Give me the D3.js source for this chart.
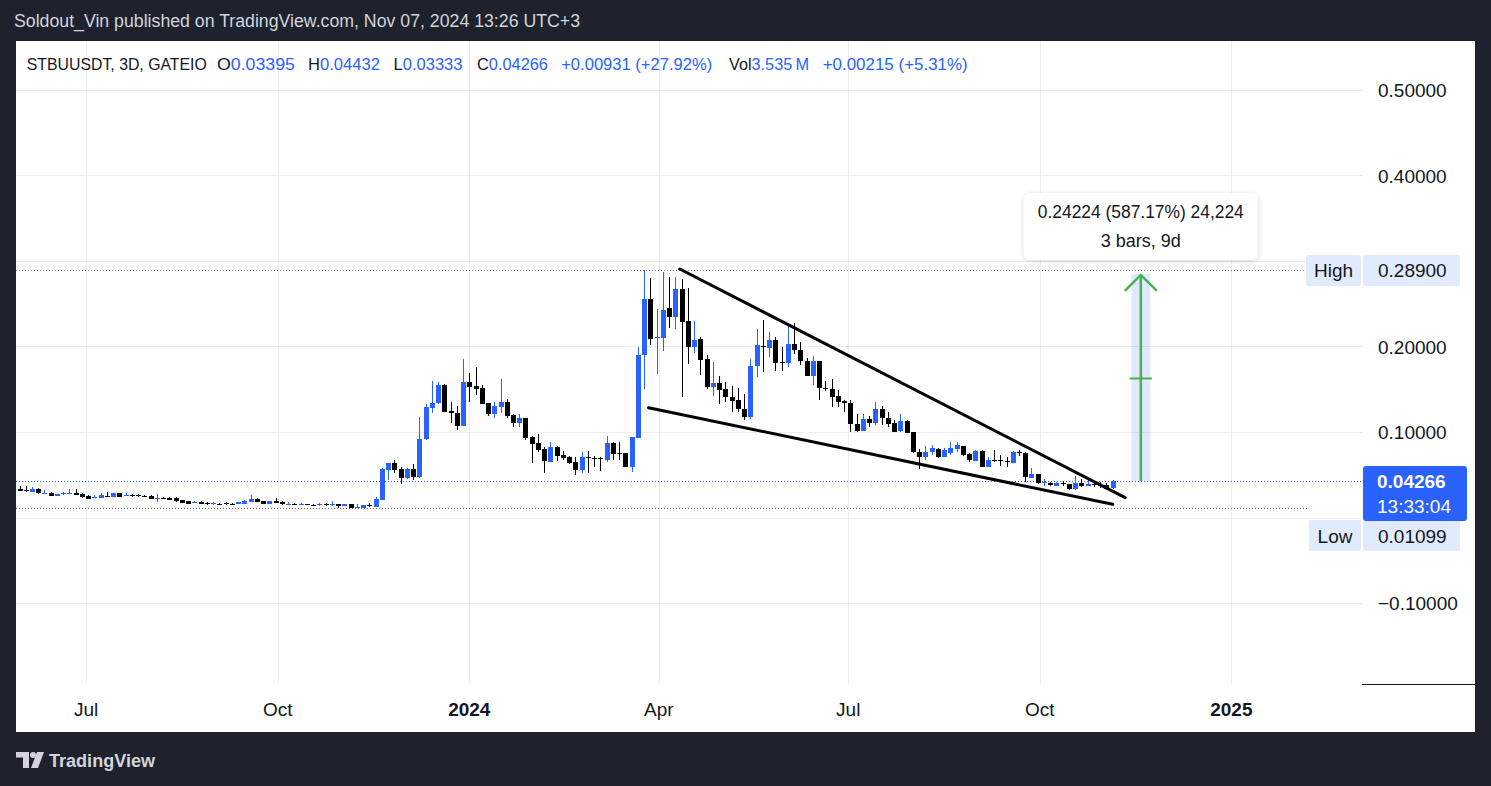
<!DOCTYPE html>
<html><head><meta charset="utf-8">
<script src="https://cdn.jsdelivr.net/npm/d3@7"></script>
<style>html,body{margin:0;padding:0;background:#1e222d;overflow:hidden}svg{display:block}</style>
</head><body>
<svg id="chart" width="1491" height="786"></svg>
<script>
// ---------------- DATA ----------------
const firstBarDate = "2023-05-30";   // 3D bars
const barDays = 3;
const opens = [
0.0337,0.0324,0.0302,0.0333,0.0287,0.0290,0.0255,0.0271,0.0287,0.0290,
0.0275,0.0255,0.0232,0.0228,0.0251,0.0243,0.0283,0.0264,0.0265,0.0261,
0.0254,0.0255,0.0225,0.0230,0.0232,0.0225,0.0205,0.0189,0.0178,0.0185,
0.0171,0.0159,0.0161,0.0164,0.0161,0.0158,0.0161,0.0185,0.0213,0.0193,
0.0161,0.0193,0.0185,0.0154,0.0160,0.0156,0.0154,0.0150,0.0143,0.0161,
0.0143,0.0158,0.0138,0.0158,0.0115,0.0115,0.0150,0.0126,0.0205,0.0559,
0.0637,0.0564,0.0458,0.0567,0.0470,0.0915,0.1284,0.1336,0.1550,0.1249,
0.1222,0.1074,0.1581,0.1538,0.1515,0.1339,0.1214,0.1296,0.1351,0.1199,
0.1109,0.1160,0.0942,0.0868,0.0805,0.0653,0.0821,0.0731,0.0708,0.0649,
0.0559,0.0708,0.0699,0.0696,0.0676,0.0871,0.0754,0.0754,0.0591,0.0933,
0.1901,0.2559,0.2108,0.2103,0.2454,0.2349,0.2673,0.2298,0.1998,0.2088,
0.1850,0.1530,0.1573,0.1503,0.1409,0.1374,0.1269,0.1179,0.1768,0.2006,
0.1986,0.2076,0.1815,0.1804,0.2026,0.1959,0.1834,0.1658,0.1830,0.1515,
0.1499,0.1421,0.1357,0.1336,0.1090,0.1015,0.1152,0.1109,0.1266,0.1160,
0.1102,0.1015,0.1129,0.0996,0.0770,0.0704,0.0763,0.0801,0.0704,0.0758,
0.0801,0.0836,0.0743,0.0664,0.0781,0.0594,0.0676,0.0669,0.0657,0.0634,
0.0770,0.0758,0.0466,0.0509,0.0407,0.0404,0.0368,0.0400,0.0392,0.0330,
0.0407,0.0368,0.0392,0.0384,0.0384,0.03395];
const highs = [
0.0368,0.0368,0.0357,0.0349,0.0322,0.0302,0.0278,0.0302,0.0333,0.0337,
0.0290,0.0263,0.0263,0.0281,0.0298,0.0287,0.0287,0.0283,0.0275,0.0271,
0.0263,0.0260,0.0271,0.0243,0.0236,0.0243,0.0208,0.0193,0.0196,0.0189,
0.0185,0.0181,0.0173,0.0181,0.0173,0.0185,0.0201,0.0263,0.0225,0.0196,
0.0196,0.0228,0.0193,0.0178,0.0173,0.0170,0.0158,0.0161,0.0173,0.0164,
0.0193,0.0161,0.0161,0.0161,0.0158,0.0150,0.0173,0.0236,0.0582,0.0643,
0.0673,0.0587,0.0579,0.0626,0.1172,0.1327,0.1596,0.1588,0.1556,0.1351,
0.1304,0.1854,0.1687,0.1757,0.1550,0.1345,0.1354,0.1620,0.1386,0.1211,
0.1211,0.1164,0.0953,0.0973,0.0821,0.0883,0.0836,0.0774,0.0719,0.0704,
0.0763,0.0781,0.0719,0.0702,0.0953,0.0887,0.0883,0.0760,0.0947,0.1998,
0.2890,0.2805,0.2435,0.2868,0.2813,0.2813,0.2789,0.2681,0.2298,0.2115,
0.1901,0.1822,0.1655,0.1588,0.1538,0.1511,0.1441,0.1850,0.2205,0.2310,
0.2170,0.2115,0.1991,0.2271,0.2271,0.2056,0.1869,0.1889,0.1836,0.1600,
0.1616,0.1491,0.1374,0.1374,0.1211,0.1211,0.1191,0.1351,0.1308,0.1230,
0.1140,0.1207,0.1140,0.1000,0.0801,0.0836,0.0848,0.0809,0.0809,0.0887,
0.0887,0.0842,0.0749,0.0789,0.0789,0.0704,0.0789,0.0731,0.0711,0.0781,
0.0789,0.0766,0.0575,0.0512,0.0447,0.0419,0.0419,0.0427,0.0395,0.0485,
0.0450,0.0439,0.0419,0.0412,0.0400,0.04432];
const lows = [
0.0310,0.0298,0.0298,0.0271,0.0271,0.0251,0.0251,0.0269,0.0271,0.0263,
0.0228,0.0211,0.0225,0.0225,0.0242,0.0240,0.0240,0.0251,0.0243,0.0240,
0.0236,0.0216,0.0185,0.0213,0.0205,0.0181,0.0170,0.0158,0.0166,0.0158,
0.0150,0.0150,0.0150,0.0146,0.0150,0.0154,0.0158,0.0183,0.0181,0.0158,
0.0158,0.0166,0.0150,0.0150,0.0146,0.0150,0.0146,0.0138,0.0140,0.0140,
0.0140,0.0111,0.0135,0.0111,0.01099,0.0111,0.0126,0.0123,0.0199,0.0439,
0.0526,0.0392,0.0450,0.0439,0.0462,0.0906,0.1219,0.1327,0.1230,0.1109,
0.1023,0.1070,0.1354,0.1433,0.1322,0.1191,0.1167,0.1226,0.1164,0.1062,
0.1062,0.0906,0.0641,0.0763,0.0524,0.0649,0.0657,0.0676,0.0626,0.0501,
0.0524,0.0524,0.0594,0.0547,0.0646,0.0673,0.0669,0.0591,0.0529,0.0930,
0.1503,0.2018,0.1678,0.1947,0.2213,0.2205,0.1413,0.1792,0.1927,0.1663,
0.1503,0.1425,0.1324,0.1354,0.1237,0.1237,0.1137,0.1152,0.1647,0.1705,
0.1881,0.1717,0.1713,0.1764,0.1912,0.1784,0.1655,0.1550,0.1374,0.1483,
0.1289,0.1296,0.1237,0.1004,0.1004,0.1012,0.1062,0.1082,0.1082,0.1062,
0.1000,0.1004,0.0985,0.0751,0.0564,0.0673,0.0731,0.0692,0.0702,0.0731,
0.0770,0.0719,0.0653,0.0661,0.0591,0.0591,0.0653,0.0602,0.0594,0.0632,
0.0719,0.0412,0.0462,0.0388,0.0368,0.0368,0.0365,0.0368,0.0327,0.0327,
0.0360,0.0365,0.0360,0.0349,0.0322,0.03333];
const closes = [
0.0313,0.0319,0.0337,0.0283,0.0292,0.0255,0.0275,0.0287,0.0292,0.0267,
0.0240,0.0216,0.0240,0.0260,0.0246,0.0283,0.0243,0.0269,0.0260,0.0256,
0.0248,0.0220,0.0232,0.0226,0.0208,0.0193,0.0173,0.0161,0.0184,0.0161,
0.0166,0.0164,0.0154,0.0159,0.0158,0.0181,0.0196,0.0213,0.0185,0.0161,
0.0193,0.0170,0.0154,0.0161,0.0156,0.0161,0.0150,0.0143,0.0161,0.0143,
0.0161,0.0138,0.0158,0.0115,0.0123,0.0146,0.0146,0.0213,0.0564,0.0637,
0.0559,0.0458,0.0564,0.0474,0.0915,0.1292,0.1339,0.1550,0.1237,0.1219,
0.1074,0.1581,0.1530,0.1506,0.1327,0.1214,0.1304,0.1351,0.1187,0.1109,
0.1160,0.0930,0.0863,0.0789,0.0664,0.0821,0.0723,0.0696,0.0641,0.0559,
0.0704,0.0699,0.0692,0.0688,0.0871,0.0739,0.0746,0.0594,0.0942,0.1901,
0.2559,0.2091,0.2115,0.2427,0.2349,0.2673,0.2290,0.1998,0.2076,0.1846,
0.1530,0.1573,0.1495,0.1413,0.1366,0.1266,0.1179,0.1772,0.2018,0.1991,
0.2076,0.1804,0.1804,0.2026,0.1959,0.1834,0.1658,0.1830,0.1518,0.1503,
0.1413,0.1354,0.1343,0.1094,0.1015,0.1152,0.1109,0.1266,0.1160,0.1094,
0.1004,0.1129,0.0992,0.0763,0.0704,0.0770,0.0809,0.0704,0.0789,0.0809,
0.0844,0.0731,0.0673,0.0781,0.0594,0.0673,0.0669,0.0662,0.0649,0.0770,
0.0758,0.0477,0.0509,0.0407,0.0419,0.0380,0.0404,0.0392,0.0330,0.0407,
0.0368,0.0392,0.0380,0.0368,0.0333,0.04266];

const priceTicks = [0.5, 0.4, 0.3, 0.2, 0.1, 0.0, -0.1];
// the 0.00000 label is fully covered by the price badges in the original
const priceTickLabelShown = [true, true, true, true, true, false, true];
const timeTickDates = ["2023-07-01","2023-10-01","2024-01-01","2024-04-01","2024-07-01","2024-10-01","2025-01-01"];
const timeTickLabels = ["Jul","Oct","2024","Apr","Jul","Oct","2025"];
const timeTickBold = [false,false,true,false,false,false,true];

const highValue = 0.289, lowValue = 0.01099, lastPrice = 0.04266;
const countdown = "13:33:04";
// trend lines: [barIndex, price]
const upperTrend = [[105.7, 0.2906], [177.0, 0.0232]];
const lowerTrend = [[100.7, 0.1284], [175.0, 0.0154]];
// price range measurement
const rangeFromPrice = 0.04266, rangeChange = 0.24224;
const rangeBars = [178, 181];
const rangeText = ["0.24224 (587.17%) 24,224", "3 bars, 9d"];

const headerText = "Soldout_Vin published on TradingView.com, Nov 07, 2024 13:26 UTC+3";
const legendLabels = ["STBUUSDT, 3D, GATEIO","O","H","L","C","","Vol",""];
const legendValues = ["","0.03395","0.04432","0.03333","0.04266","+0.00931 (+27.92%)","3.535\u202FM","+0.00215 (+5.31%)"];

// ---------------- LAYOUT ----------------
const plot = {x0:16, y0:41, x1:1362, y1:684};
const panel = {x0:16, y0:41, x1:1475, y1:732};
const legendX = [26.8, 217, 308, 393.5, 477, 561.2, 729, 822.7];
const legendW = [180, 78, 72, 69, 71, 151, 80, 145];
const BLUE = "#2962ff", TXT = "#131722", FONT = "'Liberation Sans', Arial, sans-serif";

const svg = d3.select("#chart");
const parse = d3.utcParse("%Y-%m-%d");
const d0 = parse(firstBarDate);
const barDate = i => d3.utcHour.offset(d0, Math.round(i * barDays * 24));
const n = opens.length;
const x = d3.scaleUtc().domain([barDate(0), barDate(n - 1)]).range([19.5, 1112.7]);
const y = d3.scaleLinear().domain([-0.1, 0.5]).range([603, 90]);
const bx = i => x(barDate(i));

// background
svg.append("rect").attr("width", 1491).attr("height", 786).attr("fill", "#1e222d");
svg.append("rect").attr("x", panel.x0).attr("y", panel.y0)
  .attr("width", panel.x1 - panel.x0).attr("height", panel.y1 - panel.y0).attr("fill", "#ffffff");

svg.append("text").attr("x", 14).attr("y", 26.5).attr("fill", "#d1d4dc")
  .attr("font-family", FONT).attr("font-size", 17.5)
  .attr("textLength", 566).attr("lengthAdjust", "spacingAndGlyphs").text(headerText);

const defs = svg.append("defs");
defs.append("clipPath").attr("id", "plotclip").append("rect")
  .attr("x", plot.x0).attr("y", plot.y0).attr("width", plot.x1 - plot.x0).attr("height", plot.y1 - plot.y0);
const sh = defs.append("filter").attr("id", "shadow").attr("x", "-20%").attr("y", "-30%").attr("width", "140%").attr("height", "160%");
sh.append("feDropShadow").attr("dx", 0).attr("dy", 1).attr("stdDeviation", 2.2).attr("flood-color", "#000").attr("flood-opacity", 0.18);

const g = svg.append("g").attr("clip-path", "url(#plotclip)");

// grid
g.selectAll(".hg").data(priceTicks).join("line")
  .attr("x1", plot.x0).attr("x2", plot.x1)
  .attr("y1", d => Math.round(y(d)) + 0.5).attr("y2", d => Math.round(y(d)) + 0.5)
  .attr("stroke", "#ebedf1").attr("stroke-width", 1);
const tDates = timeTickDates.map(parse);
g.selectAll(".vg").data(tDates).join("line")
  .attr("x1", d => Math.round(x(d)) + 0.5).attr("x2", d => Math.round(x(d)) + 0.5)
  .attr("y1", plot.y0).attr("y2", plot.y1)
  .attr("stroke", "#ebedf1").attr("stroke-width", 1);

// high / low / last dotted lines
const dotted = (p, color, x2) => g.append("line").attr("x1", plot.x0).attr("x2", x2)
  .attr("y1", Math.round(y(p)) + 0.5).attr("y2", Math.round(y(p)) + 0.5)
  .attr("stroke", color).attr("stroke-width", 1).attr("stroke-dasharray", "1 2");
dotted(highValue, "#6a6d78", 1306);
dotted(lowValue, "#6a6d78", 1309);
dotted(lastPrice, BLUE, plot.x1);

// candles
const idx = d3.range(n);
const cg = g.append("g");
cg.selectAll(".wick").data(idx).join("rect")
  .attr("x", i => Math.round(bx(i)))
  .attr("y", i => Math.round(y(highs[i])))
  .attr("width", 1)
  .attr("height", i => Math.max(1, Math.round(y(lows[i])) - Math.round(y(highs[i]))))
  .attr("fill", i => closes[i] >= opens[i] ? BLUE : "#000");
cg.selectAll(".body").data(idx).join("rect")
  .attr("x", i => Math.round(bx(i)) - 2)
  .attr("y", i => Math.round(y(Math.max(opens[i], closes[i]))))
  .attr("width", 5)
  .attr("height", i => Math.max(1, Math.round(y(Math.min(opens[i], closes[i]))) - Math.round(y(Math.max(opens[i], closes[i])))))
  .attr("fill", i => closes[i] >= opens[i] ? BLUE : "#000");

// trend lines
const line = d3.line().x(d => bx(d[0])).y(d => y(d[1]));
[upperTrend, lowerTrend].forEach(t => g.append("path").attr("d", line(t))
  .attr("stroke", "#000").attr("stroke-width", 3).attr("stroke-linecap", "round").attr("fill", "none"));

// price range tool
const rTop = y(rangeFromPrice + rangeChange), rBot = y(rangeFromPrice);
const rx0 = bx(rangeBars[0]), rx1 = bx(rangeBars[1]), rcx = (rx0 + rx1) / 2;
g.append("rect").attr("x", rx0).attr("y", rTop).attr("width", rx1 - rx0).attr("height", rBot - rTop)
  .attr("fill", "rgba(41,98,255,0.15)");
g.append("line").attr("x1", rcx).attr("x2", rcx).attr("y1", rBot).attr("y2", rTop + 1)
  .attr("stroke", "#4caf50").attr("stroke-width", 2.5);
g.append("path").attr("d", `M${rcx - 16},${rTop + 17}L${rcx},${rTop + 1}L${rcx + 16},${rTop + 17}`)
  .attr("stroke", "#4caf50").attr("stroke-width", 2.5).attr("fill", "none");
g.append("line").attr("x1", rcx - 11).attr("x2", rcx + 11)
  .attr("y1", (rTop + rBot) / 2 + 1).attr("y2", (rTop + rBot) / 2 + 1)
  .attr("stroke", "#4caf50").attr("stroke-width", 2);
const tipW = 234, tipH = 67, tipY = rTop - 14 - tipH;
svg.append("rect").attr("x", rcx - tipW / 2).attr("y", tipY).attr("width", tipW).attr("height", tipH)
  .attr("rx", 6).attr("fill", "#fff").attr("filter", "url(#shadow)");
svg.append("text").attr("x", rcx).attr("y", tipY + 25).attr("text-anchor", "middle")
  .attr("font-family", FONT).attr("font-size", 17.5).attr("fill", TXT)
  .attr("textLength", 206).attr("lengthAdjust", "spacingAndGlyphs").text(rangeText[0]);
svg.append("text").attr("x", rcx).attr("y", tipY + 54).attr("text-anchor", "middle")
  .attr("font-family", FONT).attr("font-size", 17.5).attr("fill", TXT)
  .attr("textLength", 80).attr("lengthAdjust", "spacingAndGlyphs").text(rangeText[1]);

// legend
legendLabels.forEach((lab, k) => {
  const t = svg.append("text").attr("x", legendX[k]).attr("y", 70)
    .attr("font-family", FONT).attr("font-size", 16.5)
    .attr("textLength", legendW[k]).attr("lengthAdjust", "spacingAndGlyphs");
  if (lab) t.append("tspan").attr("fill", TXT).text(lab);
  if (legendValues[k]) t.append("tspan").attr("fill", BLUE).text(legendValues[k]);
});

// price axis labels (0.3 partly hidden behind the High badge, as in the original)
const fmt = d3.format(".5f");
const axClip = defs.append("clipPath").attr("id", "axclip");
[[41, 255.5], [286, 466], [551, 684]].forEach(([a, b]) =>
  axClip.append("rect").attr("x", plot.x1).attr("y", a).attr("width", panel.x1 - plot.x1).attr("height", b - a));
svg.append("g").attr("clip-path", "url(#axclip)")
  .selectAll(".pl").data(priceTicks.filter((d, k) => priceTickLabelShown[k])).join("text")
  .attr("x", 1378).attr("y", d => y(d) + 7)
  .attr("font-family", FONT).attr("font-size", 19).attr("fill", TXT)
  .text(d => fmt(d).replace("-", "\u2212"));

// time axis labels
svg.selectAll(".tl").data(tDates).join("text")
  .attr("x", d => x(d)).attr("y", 716).attr("text-anchor", "middle")
  .attr("font-family", FONT).attr("font-size", 19).attr("fill", TXT)
  .attr("font-weight", (d, k) => timeTickBold[k] ? "bold" : "normal")
  .text((d, k) => timeTickLabels[k]);

svg.append("line").attr("x1", plot.x1).attr("x2", panel.x1).attr("y1", plot.y1 + 0.5).attr("y2", plot.y1 + 0.5)
  .attr("stroke", "#131722").attr("stroke-width", 1);

// High / Low / last price badges
const LB = "#e1ebfd";
function badge(name, value, cy, nameX0) {
  svg.append("rect").attr("x", nameX0).attr("y", cy - 15.5).attr("width", 1361 - nameX0).attr("height", 31).attr("rx", 2).attr("fill", LB);
  svg.append("rect").attr("x", 1363).attr("y", cy - 15.5).attr("width", 97).attr("height", 31).attr("rx", 2).attr("fill", LB);
  svg.append("text").attr("x", (nameX0 + 1361) / 2).attr("y", cy + 7).attr("text-anchor", "middle")
    .attr("font-family", FONT).attr("font-size", 19).attr("fill", TXT).text(name);
  svg.append("text").attr("x", 1378).attr("y", cy + 7)
    .attr("font-family", FONT).attr("font-size", 19).attr("fill", TXT).text(fmt(value));
}
badge("High", highValue, y(highValue), 1306);
const lastY = y(lastPrice);
badge("Low", lowValue, lastY + 54.5, 1309);
svg.append("rect").attr("x", 1363).attr("y", lastY - 15).attr("width", 104).attr("height", 55).attr("rx", 3).attr("fill", BLUE);
svg.append("text").attr("x", 1377).attr("y", lastY + 7).attr("font-family", FONT).attr("font-size", 19)
  .attr("font-weight", "bold").attr("fill", "#fff").text(fmt(lastPrice));
svg.append("text").attr("x", 1377).attr("y", lastY + 32).attr("font-family", FONT).attr("font-size", 19)
  .attr("fill", "#fff").text(countdown);

// TradingView logo
const lg = svg.append("g").attr("fill", "#d1d4dc");
lg.append("path").attr("d", "M16,752H29V768H23V757.5H16Z");
lg.append("circle").attr("cx", 33).attr("cy", 755).attr("r", 3);
lg.append("path").attr("d", "M37,752H44L38,768H31Z");
svg.append("text").attr("x", 49).attr("y", 767).attr("font-family", FONT).attr("font-size", 18)
  .attr("font-weight", "bold").attr("fill", "#d1d4dc")
  .attr("textLength", 106).attr("lengthAdjust", "spacingAndGlyphs").text("TradingView");
</script>
</body></html>
